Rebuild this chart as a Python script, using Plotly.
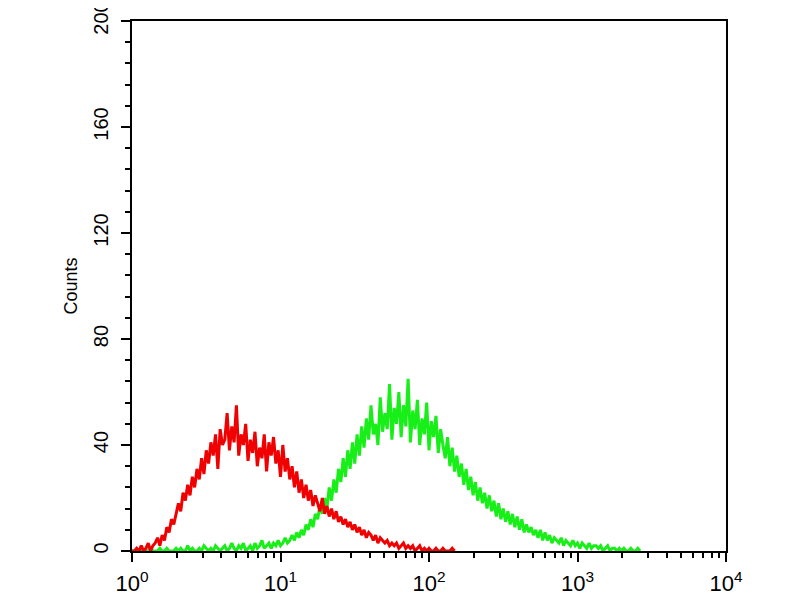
import plotly.graph_objects as go

# Histogram counts per channel (256 channels over 4 log decades, 64 channels/decade)
CHANNELS_PER_DECADE = 64

red_counts = [
    0, 0, 1, 0, 2, 0, 1, 3, 0, 2,
    3, 5, 2, 6, 4, 9, 7, 12, 10, 14,
    18, 15, 22, 19, 25, 21, 28, 24, 31, 27,
    35, 29, 38, 33, 41, 36, 44, 31, 46, 40,
    42, 52, 38, 47, 41, 55, 36, 44, 40, 48,
    34, 42, 37, 45, 32, 39, 35, 44, 30, 41,
    36, 43, 33, 38, 28, 40, 30, 35, 27, 32,
    24, 30, 22, 27, 20, 25, 19, 23, 17, 21,
    18, 15, 20, 14, 17, 13, 16, 12, 15, 11,
    13, 10, 12, 9, 11, 8, 10, 7, 9, 6,
    8, 5, 7, 6, 4, 6, 3, 5, 4, 3,
    4, 2, 3, 2, 3, 1, 2, 3, 1, 2,
    1, 2, 0, 1, 2, 0, 1, 0, 1, 0,
    0, 1, 0, 0, 1, 0, 0, 0, 1, 0,
]

green_counts = [
    0, 0, 0, 0, 0, 0, 0, 0, 1, 0,
    0, 0, 1, 0, 0, 1, 0, 0, 0, 1,
    0, 1, 0, 0, 2, 0, 1, 0, 0, 1,
    0, 2, 1, 0, 1, 0, 2, 1, 0, 1,
    2, 0, 1, 3, 1, 0, 2, 1, 3, 0,
    1, 2, 0, 3, 1, 2, 4, 1, 2, 3,
    1, 3, 2, 4, 2, 3, 5, 3, 4, 6,
    4, 7, 5, 8, 6, 10, 8, 12, 9, 14,
    12, 17, 14, 20, 16, 24, 19, 27, 22, 31,
    26, 35, 28, 38, 31, 41, 33, 44, 36, 47,
    39, 50, 42, 55, 44, 48, 40, 58, 45, 52,
    46, 63, 42, 54, 48, 60, 43, 55, 47, 65,
    41, 53, 46, 57, 40, 50, 44, 56, 38, 49,
    43, 51, 37, 46, 40, 35, 43, 32, 39, 30,
    36, 28, 33, 25, 31, 23, 28, 21, 26, 19,
    24, 18, 22, 16, 21, 15, 19, 13, 18, 12,
    16, 11, 15, 10, 14, 9, 13, 8, 12, 7,
    10, 7, 9, 6, 8, 5, 8, 4, 7, 4,
    6, 3, 5, 4, 3, 5, 2, 4, 3, 2,
    4, 2, 3, 1, 3, 2, 1, 3, 1, 2,
    2, 1, 2, 0, 1, 2, 0, 1, 1, 0,
    1, 0, 1, 0, 0, 1, 0, 0, 1, 0,
]

x_tick_values = [1, 10, 100, 1000, 10000]
x_tick_labels = ["10<sup>0</sup>", "10<sup>1</sup>", "10<sup>2</sup>", "10<sup>3</sup>", "10<sup>4</sup>"]
y_tick_values = [0, 40, 80, 120, 160, 200]
y_title = "Counts"


def channel_to_value(ch):
    return 10 ** (ch / CHANNELS_PER_DECADE)


red_x = [channel_to_value(i) for i in range(len(red_counts))]
green_x = [channel_to_value(i) for i in range(len(green_counts))]

minor_vals = [m * 10 ** d for d in range(4) for m in range(2, 10)]

fig = go.Figure()
fig.add_trace(go.Scatter(x=green_x, y=green_counts, mode="lines",
                         line=dict(color="#18ee18", width=3), showlegend=False))
fig.add_trace(go.Scatter(x=red_x, y=red_counts, mode="lines",
                         line=dict(color="#f00000", width=3), showlegend=False))

fig.update_layout(
    width=800, height=600,
    margin=dict(l=124, r=82, t=13, b=57),
    paper_bgcolor="white", plot_bgcolor="white",
    font=dict(family="Liberation Sans, Arial, sans-serif", color="black", size=20),
    showlegend=False,
)
fig.update_xaxes(
    type="log", range=[0, 4], automargin=False,
    tickvals=x_tick_values, ticktext=x_tick_labels,
    ticks="outside", ticklen=9, tickwidth=2, tickcolor="black",
    minor=dict(tickvals=minor_vals, ticks="outside", ticklen=5, tickwidth=2, tickcolor="black"),
    showline=True, linecolor="black", linewidth=2, mirror=True,
    showgrid=False, zeroline=False,
    ticklabelstandoff=3,
    ticklabeloverflow="allow",
    tickfont=dict(size=22),
)
fig.update_yaxes(
    range=[0, 200], automargin=False,
    tickvals=y_tick_values,
    tickangle=-90,
    ticks="outside", ticklen=9, tickwidth=2, tickcolor="black",
    minor=dict(dtick=8, ticks="outside", ticklen=5, tickwidth=2, tickcolor="black"),
    showline=True, linecolor="black", linewidth=2, mirror=True,
    showgrid=False, zeroline=False,
    ticklabelstandoff=5,
    ticklabeloverflow="allow",
    tickfont=dict(size=20),
    title=dict(text=y_title, font=dict(size=18), standoff=8),
)

fig.write_html("out.html")
